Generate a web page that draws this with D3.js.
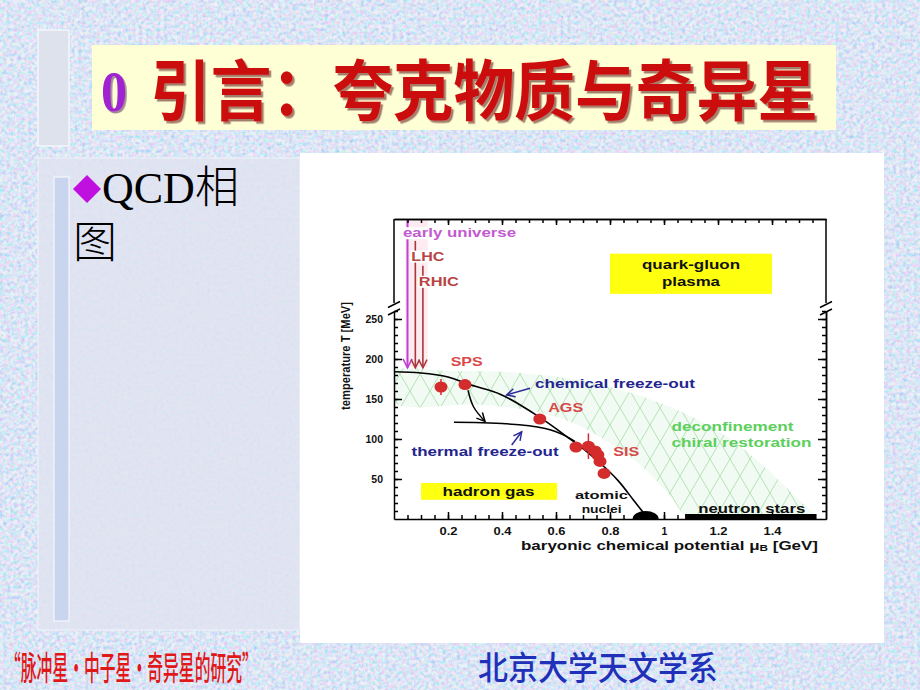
<!DOCTYPE html>
<html><head><meta charset="utf-8">
<script src="https://cdn.jsdelivr.net/npm/d3@7"></script>
<style>body{margin:0;overflow:hidden;background:#c4d3ef}</style>
</head><body><svg id="c" width="920" height="690"></svg>
<script>
// ---------------- data ----------------
const chemicalFO = [[0,184],[0.1,182.5],[0.2,177.5],[0.263,170],[0.33,163],[0.393,156],[0.46,144],[0.54,127],[0.6,113],[0.64,103],[0.7,88],[0.763,70],[0.83,48],[0.886,24],[0.936,3]];
const thermalFO  = [[0.222,121],[0.3,120.5],[0.4,119.3],[0.5,116.5],[0.56,113],[0.6,109],[0.64,103],[0.67,97]];
const bandUpper  = [[0,184],[0.2,185],[0.4,184],[0.6,178],[0.8,165],[1.0,143],[1.2,110],[1.35,72],[1.48,30],[1.56,0]];
const bandLower  = [[1.1,0],[1.02,30],[0.92,65],[0.8,95],[0.65,122],[0.5,136],[0.3,143],[0,146]];
const expMu   = [0.174,0.263,0.54,0.674,0.72,0.745,0.755,0.763,0.778];
const expT    = [165,168,125,90,91,85,80,72,57];
const expErrT = [10,0,0,0,16,0,0,0,0];
const probeNames  = ["early universe","LHC","RHIC"];
const probeMu     = [0.05,0.079,0.107];
const probeLabelT = [461,397,328];
const probeTopT   = [500,440,372];
const xTickValues = [0.2,0.4,0.6,0.8,1.0,1.2,1.4];
const xTickLabels = ["0.2","0.4","0.6","0.8","1","1.2","1.4"];
const yTickValues = [50,100,150,200,250];
const yTickLabels = ["50","100","150","200","250"];
const sfoArrow  = [[0.274,161],[0.295,140],[0.337,122]];
const chemArrow = [[0.504,163.5],[0.417,155]];
const thermArrow= [[0.436,92.5],[0.473,109]];
const nucleiMu = 0.932;
const neutronStarRange = [1.078,1.565];

// ---------------- setup ----------------
const svg = d3.select("#c");
const defs = svg.append("defs");

const f = defs.append("filter").attr("id","noise").attr("x",0).attr("y",0).attr("width","100%").attr("height","100%");
f.append("feTurbulence").attr("type","fractalNoise").attr("baseFrequency",0.28).attr("numOctaves",4).attr("seed",11);
f.append("feColorMatrix").attr("type","matrix")
 .attr("values","1.5 0 0 0 0.05  0 0.9 0 0 0.4  0 0 0.5 0 0.7  0 0 0 0 1");

const sh = defs.append("filter").attr("id","shadow").attr("x","-5%").attr("y","-10%").attr("width","115%").attr("height","130%");
sh.append("feDropShadow").attr("dx",2.5).attr("dy",2.5).attr("stdDeviation",0.6).attr("flood-color","#5a0a0a").attr("flood-opacity",0.55);
const sh2 = defs.append("filter").attr("id","shadow2").attr("x","-20%").attr("y","-10%").attr("width","150%").attr("height","130%");
sh2.append("feDropShadow").attr("dx",2).attr("dy",2).attr("stdDeviation",0.6).attr("flood-color","#400a50").attr("flood-opacity",0.5);

const pat = defs.append("pattern").attr("id","hatch").attr("patternUnits","userSpaceOnUse")
  .attr("width",20).attr("height",34);
pat.append("path").attr("d","M0,0L20,34M20,0L0,34")
  .attr("stroke","#a6dca6").attr("stroke-width",0.8).attr("fill","none");

function marker(id,color,size){
  defs.append("marker").attr("id",id).attr("viewBox","-1 -6 12 12")
    .attr("refX",9).attr("refY",0).attr("markerWidth",size).attr("markerHeight",size)
    .attr("markerUnits","userSpaceOnUse").attr("orient","auto")
    .append("path").attr("d","M0,-4.5L9,0L0,4.5").attr("fill","none").attr("stroke",color).attr("stroke-width",1.6);
}
marker("arBlack","#000",11); marker("arBlue","#2a2a9a",11);
marker("arMag","#c040d0",12); marker("arBrown","#a83838",11);

// fit a text to a width by horizontal scaling
function fitText(sel, x0, yb, w){
  const len = sel.node().getComputedTextLength();
  sel.attr("x",0).attr("y",0).attr("transform",`translate(${x0},${yb}) scale(${w/len},1)`);
  return sel;
}

// ---------------- slide background ----------------
svg.append("rect").attr("width",920).attr("height",690).attr("fill","#c4d3ef");
svg.append("rect").attr("width",920).attr("height",690).attr("filter","url(#noise)").attr("opacity",0.7);

// small left bar at top
svg.append("rect").attr("x",38).attr("y",30).attr("width",31).attr("height",116)
  .attr("fill","#dde2ec").attr("stroke","#f4f6fb").attr("stroke-width",1.5);
// title box
svg.append("rect").attr("x",92).attr("y",45).attr("width",744).attr("height",85).attr("fill","#ffffd6");
fitText(svg.append("text").attr("font-family","Liberation Serif, serif").attr("font-weight","bold")
  .attr("font-size",58).attr("fill","#a020d0").attr("filter","url(#shadow2)").text("0"), 101, 111, 26);
fitText(svg.append("text").attr("font-family","Noto Sans CJK SC").attr("font-weight",700)
  .attr("font-size",66).attr("fill","#cc0c0c").attr("filter","url(#shadow)").text("引言：夸克物质与奇异星"), 150, 115, 668);

// content panel
svg.append("rect").attr("x",38).attr("y",158).attr("width",262).attr("height",472)
  .attr("fill","#e1e4f1").attr("opacity",0.85).attr("stroke","#eef0f7").attr("stroke-width",1.5);
svg.append("rect").attr("x",54).attr("y",177).attr("width",15).attr("height",444)
  .attr("fill","#c9d5ee").attr("stroke","#f5f7fc").attr("stroke-width",1.2);
svg.append("path").attr("d","M87,175L101,189L87,203L73,189Z").attr("fill","#c010e0");
svg.append("text").attr("x",102).attr("y",203).attr("font-family","Liberation Serif, serif").attr("font-size",44).attr("fill","#000")
  .text("QCD").append("tspan").attr("font-family","Noto Sans CJK SC").attr("font-weight",300).text("相");
svg.append("text").attr("x",73).attr("y",258).attr("font-family","Noto Sans CJK SC").attr("font-weight",300).attr("font-size",44).attr("fill","#000").text("图");

// footer
fitText(svg.append("text").attr("font-family","Noto Sans CJK SC").attr("font-weight",500)
  .attr("font-size",33).attr("fill","#e01818").text("“脉冲星·中子星·奇异星的研究”"), 5, 680, 253);
fitText(svg.append("text").attr("font-family","Noto Sans CJK SC").attr("font-weight",500)
  .attr("font-size",33).attr("fill","#2030b8").text("北京大学天文学系"), 478, 680, 240);

// chart panel
svg.append("rect").attr("x",300).attr("y",153).attr("width",584).attr("height",490).attr("fill","#fff");

// ---------------- chart ----------------
const x = d3.scaleLinear().domain([0,1.6]).range([394,826]);
const y = d3.scaleLinear().domain([0,260]).range([519,311]);
const yHigh = d3.scaleLinear().domain([270,500]).range([303,219]);
const xL = x.range()[0], xR = x.range()[1];
const g = svg.append("g");
const bold = "Liberation Sans, Arial, sans-serif";

// hatched band
const clip = defs.append("clipPath").attr("id","plotclip");
clip.append("rect").attr("x",xL).attr("y",yHigh(500)).attr("width",xR-xL).attr("height",y(0)-yHigh(500));
const bandLine = d3.line().x(d=>x(d[0])).y(d=>y(d[1])).curve(d3.curveCatmullRomClosed);
const bandPts = bandUpper.concat(bandLower);
g.append("path").attr("clip-path","url(#plotclip)").attr("d",bandLine(bandPts)).attr("fill","#f1fbf3");
g.append("path").attr("clip-path","url(#plotclip)").attr("d",bandLine(bandPts)).attr("fill","url(#hatch)");

// pink shading behind probes
g.append("rect").attr("x",x(0.042)).attr("y",yHigh(500)).attr("width",x(0.125)-x(0.042)).attr("height",y(190)-yHigh(500))
  .attr("fill","#fde6ee").attr("opacity",0.8);

// probes: vertical arrows
probeNames.forEach((n,i)=>{
  const col = i===0 ? "#c040d0" : "#a83838";
  const xx = x(probeMu[i]);
  g.append("line").attr("x1",xx).attr("x2",xx).attr("y1",yHigh(probeTopT[i])).attr("y2",y(189))
    .attr("stroke",col).attr("stroke-width",i===0?2:1.6)
    .attr("marker-end", i===0 ? "url(#arMag)" : "url(#arBrown)");
});
const probeW = [113,33,40];
probeNames.forEach((n,i)=>{
  const tcol = i===0 ? "#c35ad0" : "#b84444";
  const lx = x(probeMu[i]) - (i===0?4.5:4);
  g.append("rect").attr("x",lx-1).attr("y",yHigh(probeLabelT[i])-6).attr("width",probeW[i]+2).attr("height",12).attr("fill","#fff");
  g.append("text").attr("x",lx).attr("y",yHigh(probeLabelT[i])).attr("dominant-baseline","central")
    .attr("font-family",bold).attr("font-weight","bold").attr("font-size",12).attr("fill",tcol)
    .attr("textLength",probeW[i]).attr("lengthAdjust","spacingAndGlyphs").text(n);
});

function label(txt, mu, cy, w, col, size, anchor){
  return g.append("text").attr("x",x(mu)).attr("y",cy).attr("dominant-baseline","central")
    .attr("text-anchor",anchor||"start")
    .attr("font-family",bold).attr("font-weight","bold").attr("font-size",size||12).attr("fill",col)
    .attr("textLength",w).attr("lengthAdjust","spacingAndGlyphs").text(txt);
}
// quark-gluon plasma box
g.append("rect").attr("x",x(0.80)).attr("y",yHigh(405)).attr("width",x(1.40)-x(0.80)).attr("height",yHigh(295)-yHigh(405)).attr("fill","#ffff10");
label("quark-gluon",1.1,yHigh(373),98,"#111",12.5,"middle");
label("plasma",1.1,yHigh(327),58,"#111",12.5,"middle");

// hadron gas box
g.append("rect").attr("x",x(0.1)).attr("y",y(45)).attr("width",x(0.604)-x(0.1)).attr("height",y(24)-y(45)).attr("fill","#ffff10");
label("hadron gas",0.35,y(34),92,"#111",12.5,"middle");

// curves
const line = d3.line().x(d=>x(d[0])).y(d=>y(d[1])).curve(d3.curveNatural);
const straight = d3.line().x(d=>x(d[0])).y(d=>y(d[1]));
g.append("path").attr("d",line(chemicalFO)).attr("fill","none").attr("stroke","#000").attr("stroke-width",1.6);
g.append("path").attr("d",line(thermalFO)).attr("fill","none").attr("stroke","#000").attr("stroke-width",1.5);
g.append("path").attr("d",line(sfoArrow)).attr("fill","none").attr("stroke","#000").attr("stroke-width",1.5).attr("marker-end","url(#arBlack)");
g.append("path").attr("d",straight(chemArrow)).attr("fill","none").attr("stroke","#2a2a9a").attr("stroke-width",1.5).attr("marker-end","url(#arBlue)");
g.append("path").attr("d",straight(thermArrow)).attr("fill","none").attr("stroke","#2a2a9a").attr("stroke-width",1.5).attr("marker-end","url(#arBlue)");

// experimental points
expMu.forEach((m,i)=>{
  if(expErrT[i]>0){
    g.append("line").attr("x1",x(m)).attr("x2",x(m)).attr("y1",y(expT[i]-expErrT[i])).attr("y2",y(expT[i]+expErrT[i]))
      .attr("stroke","#d42c2c").attr("stroke-width",1.5);
  }
  g.append("ellipse").attr("cx",x(m)).attr("cy",y(expT[i])).attr("rx",6.5).attr("ry",5.5).attr("fill","#d42c2c");
});

// atomic nuclei & neutron stars
g.append("path").attr("d",d3.arc()({innerRadius:0,outerRadius:13,startAngle:-Math.PI/2,endAngle:Math.PI/2}))
  .attr("transform",`translate(${x(nucleiMu)},${y(0)}) scale(1,0.62)`).attr("fill","#000");
g.append("rect").attr("x",x(neutronStarRange[0])).attr("y",y(0)-5).attr("width",x(neutronStarRange[1])-x(neutronStarRange[0])).attr("height",5).attr("fill","#000");

// text labels
label("SPS",0.21,y(197.5),32,"#d84848",13);
label("AGS",0.571,y(140),35,"#d84848",13);
label("SIS",0.812,y(85),26,"#d84848",13);
label("chemical freeze-out",0.522,y(169),160,"#25258f",12.5);
label("thermal freeze-out",0.065,y(84),147,"#25258f",12.5);
label("deconfinement",1.028,y(115),122,"#5ccf5c",12.5);
label("chiral restoration",1.028,y(95),140,"#5ccf5c",12.5);
label("atomic",0.670,y(29.4),53,"#111",11.5);
label("nuclei",0.695,y(12.3),40,"#111",11.5);
label("neutron stars",1.127,y(13),107,"#111",12.5);

// ---------------- axes ----------------
const axStyle = sel => { sel.selectAll("path,line").attr("stroke","#000").attr("stroke-width",1.5); sel.selectAll("text").remove(); };
const minorX = d3.range(0.05,1.6,0.05);
g.append("g").attr("transform",`translate(0,${y(0)})`)
  .call(d3.axisBottom(x).tickValues(minorX).tickSizeInner(-4).tickSizeOuter(0)).call(axStyle);
const bx = g.append("g").attr("transform",`translate(0,${y(0)})`)
  .call(d3.axisBottom(x).tickValues(xTickValues).tickFormat((d,i)=>xTickLabels[i]).tickSizeInner(-7).tickSizeOuter(0).tickPadding(9));
bx.select(".domain").remove();
bx.selectAll("line").attr("stroke","#000").attr("stroke-width",1.5);
bx.selectAll("text").attr("font-family",bold).attr("font-weight","bold").attr("font-size",10.5).attr("fill","#111")
  .each(function(d,i){ if(xTickLabels[i].length>1) d3.select(this).attr("textLength",18).attr("lengthAdjust","spacingAndGlyphs"); });
g.append("g").attr("transform",`translate(0,${yHigh(500)})`)
  .call(d3.axisTop(x).tickValues(minorX).tickSizeInner(-4).tickSizeOuter(0)).call(axStyle);
g.append("g").attr("transform",`translate(0,${yHigh(500)})`)
  .call(d3.axisTop(x).tickValues(xTickValues).tickSizeInner(-6).tickSizeOuter(0)).call(axStyle);
const minorY = d3.range(10,261,10);
g.append("g").attr("transform",`translate(${xL},0)`)
  .call(d3.axisLeft(y).tickValues(minorY).tickSizeInner(-4).tickSizeOuter(0)).call(axStyle);
const ly = g.append("g").attr("transform",`translate(${xL},0)`)
  .call(d3.axisLeft(y).tickValues(yTickValues).tickFormat((d,i)=>yTickLabels[i]).tickSizeInner(-8).tickSizeOuter(0).tickPadding(11));
ly.select(".domain").remove();
ly.selectAll("line").attr("stroke","#000").attr("stroke-width",1.5);
ly.selectAll("text").attr("font-family",bold).attr("font-weight","bold").attr("font-size",10.5).attr("fill","#111");
g.append("g").attr("transform",`translate(${xR},0)`)
  .call(d3.axisRight(y).tickValues(minorY).tickSizeInner(-4).tickSizeOuter(0)).call(axStyle);
g.append("g").attr("transform",`translate(${xR},0)`)
  .call(d3.axisRight(y).tickValues(yTickValues).tickSizeInner(-8).tickSizeOuter(0)).call(axStyle);
// upper segments of the broken axis + break marks
[xL,xR].forEach(xx=>{
  g.append("line").attr("x1",xx).attr("x2",xx).attr("y1",yHigh(270)).attr("y2",yHigh(500)).attr("stroke","#000").attr("stroke-width",1.5);
  [yHigh(270)+1.5, y(260)+1].forEach(yy=>{
    g.append("line").attr("x1",xx-6).attr("x2",xx+6).attr("y1",yy+3).attr("y2",yy-3).attr("stroke","#000").attr("stroke-width",1.4);
  });
});

// axis titles
const xt = g.append("text").attr("x",521).attr("y",545).attr("dominant-baseline","central")
  .attr("font-family",bold).attr("font-weight","bold").attr("font-size",13).attr("fill","#111")
  .attr("textLength",297).attr("lengthAdjust","spacingAndGlyphs");
xt.append("tspan").text("baryonic chemical potential μ");
xt.append("tspan").attr("font-size",9).attr("dy",3).text("B");
xt.append("tspan").attr("dy",-3).text(" [GeV]");
g.append("text").attr("transform","translate(345,356) rotate(-90)").attr("text-anchor","middle").attr("dominant-baseline","central")
  .attr("font-family","Liberation Sans Narrow, Arial Narrow, Liberation Sans, sans-serif").attr("font-weight","bold").attr("font-size",13.5).attr("fill","#111")
  .attr("textLength",108).attr("lengthAdjust","spacingAndGlyphs").text("temperature T [MeV]");
</script></body></html>
